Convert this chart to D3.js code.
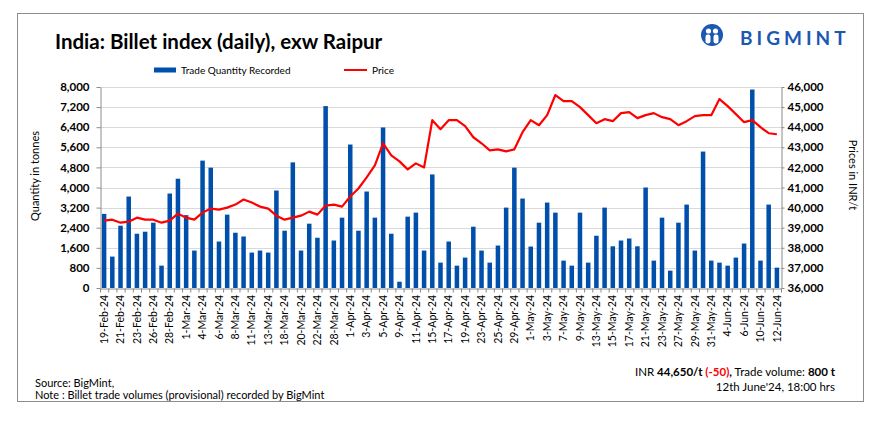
<!DOCTYPE html>
<html>
<head>
<meta charset="utf-8">
<script src="https://cdn.jsdelivr.net/npm/d3@7"></script>
<style>
  body { margin: 0; background: #fff; }
  svg { display: block; font-family: Lato, 'Open Sans', sans-serif; }
</style>
</head>
<body>
<div class="canvas"></div>
<script>
// daily categories (trading days) as shown on the axis
const dates = ['19-Feb-24','20-Feb-24','21-Feb-24','22-Feb-24','23-Feb-24','24-Feb-24','26-Feb-24','27-Feb-24','28-Feb-24','29-Feb-24',
  '1-Mar-24','2-Mar-24','4-Mar-24','5-Mar-24','6-Mar-24','7-Mar-24','8-Mar-24','9-Mar-24','11-Mar-24','12-Mar-24',
  '13-Mar-24','15-Mar-24','18-Mar-24','19-Mar-24','20-Mar-24','21-Mar-24','22-Mar-24','27-Mar-24','28-Mar-24','30-Mar-24',
  '1-Apr-24','2-Apr-24','3-Apr-24','4-Apr-24','5-Apr-24','8-Apr-24','9-Apr-24','10-Apr-24','11-Apr-24','12-Apr-24',
  '15-Apr-24','16-Apr-24','17-Apr-24','18-Apr-24','19-Apr-24','22-Apr-24','23-Apr-24','24-Apr-24','25-Apr-24','26-Apr-24',
  '29-Apr-24','30-Apr-24','1-May-24','2-May-24','3-May-24','6-May-24','7-May-24','8-May-24','9-May-24','10-May-24',
  '13-May-24','14-May-24','15-May-24','16-May-24','17-May-24','20-May-24','21-May-24','22-May-24','23-May-24','24-May-24',
  '27-May-24','28-May-24','29-May-24','30-May-24','31-May-24','3-Jun-24','4-Jun-24','5-Jun-24','6-Jun-24','7-Jun-24',
  '10-Jun-24','11-Jun-24','12-Jun-24'];

// trade quantity recorded (tonnes)
const qty = [2950,1250,2480,3640,2160,2240,2600,890,3760,4350,
  2900,1490,5070,4790,1850,2920,2200,2050,1410,1490,
  1410,3880,2280,5000,1490,2560,2000,7240,1890,2800,
  5710,2280,3840,2800,6390,2160,250,2840,3000,1490,
  4520,1010,1850,890,1210,2440,1490,1010,1690,3200,
  4790,3560,1650,2600,3400,3000,1090,890,3000,1010,
  2080,3200,1660,1890,1970,1660,4000,1090,2800,690,
  2600,3320,1490,5430,1090,1010,890,1210,1770,7900,
  1090,3320,810];

// price (INR/t)
const price = [39350,39400,39250,39300,39500,39400,39400,39250,39350,39700,
  39500,39400,39750,39950,39900,40000,40150,40400,40250,40050,
  39950,39600,39400,39500,39600,39800,39650,40100,40150,40050,
  40550,40950,41500,42100,43200,42600,42300,41900,42200,42000,
  44350,43900,44350,44350,44050,43500,43200,42850,42900,42800,
  42900,43750,44350,44100,44600,45600,45300,45300,45000,44600,
  44200,44400,44300,44700,44750,44450,44600,44700,44500,44400,
  44100,44300,44550,44600,44600,45400,45050,44650,44250,44350,
  44000,43700,43650];

const qtyTicks = [0,800,1600,2400,3200,4000,4800,5600,6400,7200,8000];
const priceTicks = [36000,37000,38000,39000,40000,41000,42000,43000,44000,45000,46000];

const W = 884, H = 428;
const plotL = 100, plotR = 781, plotT = 87, plotB = 288;
const blue = '#0050ab', red = '#ff0000';

const svg = d3.select('.canvas').append('svg')
  .attr('width', W)
  .attr('height', H);

svg.append('rect').attr('width', W).attr('height', H).attr('fill', '#fff');

// outer frame
svg.append('rect')
  .attr('x', 17.5).attr('y', 13.5)
  .attr('width', 846).attr('height', 388)
  .attr('fill', 'none')
  .attr('stroke', '#8c8c8c');

// scales
const x = d3.scaleBand().domain(dates).range([plotL, plotR]).paddingInner(0.45).paddingOuter(0.225);
const xEdge = d3.scaleLinear().domain([0, dates.length]).range([plotL, plotR]);
const yQ = d3.scaleLinear().domain([0, 8000]).range([plotB, plotT]);
const yP = d3.scaleLinear().domain([36000, 46000]).range([plotB, plotT]);

// gridlines
svg.append('g')
  .selectAll('line')
  .data(qtyTicks.slice(1))
  .join('line')
  .attr('x1', plotL).attr('x2', plotR)
  .attr('y1', d => Math.round(yQ(d)) + 0.5)
  .attr('y2', d => Math.round(yQ(d)) + 0.5)
  .attr('stroke', '#d9d9d9');

// bars
svg.append('g')
  .selectAll('rect')
  .data(qty)
  .join('rect')
  .attr('x', (d, i) => x(dates[i]))
  .attr('width', x.bandwidth())
  .attr('y', d => yQ(d))
  .attr('height', d => plotB - yQ(d))
  .attr('fill', blue);

// price line
const line = d3.line()
  .x((d, i) => x(dates[i]) + x.bandwidth() / 2)
  .y(d => yP(d));

svg.append('path')
  .datum(price)
  .attr('d', line)
  .attr('fill', 'none')
  .attr('stroke', red)
  .attr('stroke-width', 2.2)
  .attr('stroke-linejoin', 'round');

// axes
function styleAxis(g) {
  g.selectAll('.domain').attr('stroke', '#8c8c8c');
  g.selectAll('.tick line').attr('stroke', '#8c8c8c');
}

const yLeft = svg.append('g')
  .attr('transform', `translate(${plotL + 0.5},0)`)
  .call(d3.axisLeft(yQ).tickValues(qtyTicks).tickSize(4).tickSizeOuter(0).tickPadding(7).tickFormat(d3.format(',')))
  .call(styleAxis);
yLeft.selectAll('text').attr('font-size', 11.5).attr('font-weight', 'bold').attr('fill', '#000')
  .attr('font-family', 'Lato, sans-serif');

const yRight = svg.append('g')
  .attr('transform', `translate(${plotR + 0.5},0)`)
  .call(d3.axisRight(yP).tickValues(priceTicks).tickSize(3).tickSizeOuter(0).tickPadding(3).tickFormat(d3.format(',')))
  .call(styleAxis);
yRight.selectAll('text').attr('font-size', 11.5).attr('font-weight', 'bold').attr('fill', '#000')
  .attr('font-family', 'Lato, sans-serif');

// category boundary ticks
svg.append('g')
  .attr('transform', `translate(0,${plotB + 0.5})`)
  .call(d3.axisBottom(xEdge).tickValues(d3.range(dates.length + 1)).tickSize(4).tickSizeOuter(0).tickFormat(''))
  .call(styleAxis);

// category labels, every second day
const xAxis = svg.append('g')
  .attr('transform', `translate(0,${plotB})`)
  .call(d3.axisBottom(x).tickValues(dates.filter((d, i) => i % 2 === 0)).tickSize(0).tickPadding(0));
xAxis.select('.domain').remove();
xAxis.selectAll('text')
  .attr('transform', 'rotate(-90)')
  .attr('x', -7)
  .attr('y', 0)
  .attr('dy', '0.35em')
  .attr('text-anchor', 'end')
  .attr('font-size', 10.5)
  .attr('fill', '#000')
  .attr('font-family', 'Lato, sans-serif');

// axis titles
svg.append('text')
  .attr('transform', 'translate(39,176) rotate(-90)')
  .attr('text-anchor', 'middle')
  .attr('font-size', 11)
  .attr('fill', '#000')
  .text('Quantity in tonnes');

svg.append('text')
  .attr('transform', 'translate(849,175) rotate(90)')
  .attr('text-anchor', 'middle')
  .attr('font-size', 11)
  .attr('fill', '#000')
  .text('Prices in INR/t');

// title
svg.append('text')
  .attr('x', 55).attr('y', 49)
  .attr('font-size', 20.5)
  .attr('font-weight', 'bold')
  .attr('fill', '#000')
  .text('India: Billet index (daily), exw Raipur');

// legend
svg.append('rect').attr('x', 154).attr('y', 67.5).attr('width', 22).attr('height', 5).attr('fill', blue);
svg.append('text').attr('x', 181).attr('y', 74).attr('font-size', 10).attr('fill', '#000').text('Trade Quantity Recorded');
svg.append('line').attr('x1', 344).attr('x2', 367).attr('y1', 70).attr('y2', 70).attr('stroke', red).attr('stroke-width', 2);
svg.append('text').attr('x', 372).attr('y', 74).attr('font-size', 10).attr('fill', '#000').text('Price');

// logo
const logo = svg.append('g').attr('transform', 'translate(712,35)');
logo.append('circle').attr('r', 11).attr('fill', '#1c57b0');
logo.append('circle').attr('cx', -3.5).attr('cy', -4).attr('r', 2.6).attr('fill', '#fff');
logo.append('circle').attr('cx', 3.5).attr('cy', -4).attr('r', 2.6).attr('fill', '#fff');
logo.append('rect').attr('x', -6.5).attr('y', -0.5).attr('width', 5).attr('height', 9).attr('rx', 2.2).attr('fill', '#fff');
logo.append('rect').attr('x', 1.5).attr('y', -0.5).attr('width', 5).attr('height', 9).attr('rx', 2.2).attr('fill', '#fff');
logo.append('rect').attr('x', -1).attr('y', 2).attr('width', 2).attr('height', 9).attr('fill', '#1c57b0');
svg.append('text')
  .attr('x', 740).attr('y', 44.5)
  .attr('font-size', 19)
  .attr('font-weight', 'bold')
  .attr('letter-spacing', 4)
  .attr('fill', '#1c57b0')
  .text('BIGMINT');

// footer
svg.append('text').attr('x', 35).attr('y', 387).attr('font-size', 11).attr('fill', '#000').text('Source: BigMint,');
svg.append('text').attr('x', 35).attr('y', 399).attr('font-size', 11).attr('fill', '#000')
  .text('Note : Billet trade volumes (provisional) recorded by BigMint');

const info = svg.append('text').attr('x', 835).attr('y', 376).attr('text-anchor', 'end').attr('font-size', 11.5).attr('fill', '#000');
info.append('tspan').text('INR ');
info.append('tspan').attr('font-weight', 'bold').text('44,650/t ');
info.append('tspan').attr('font-weight', 'bold').attr('fill', red).text('(-50)');
info.append('tspan').attr('font-weight', 'bold').text(',');
info.append('tspan').text(' Trade volume: ');
info.append('tspan').attr('font-weight', 'bold').text('800 t');

svg.append('text').attr('x', 835).attr('y', 391).attr('text-anchor', 'end').attr('font-size', 11.5).attr('fill', '#000')
  .text("12th June'24, 18:00 hrs");
</script>
</body>
</html>
